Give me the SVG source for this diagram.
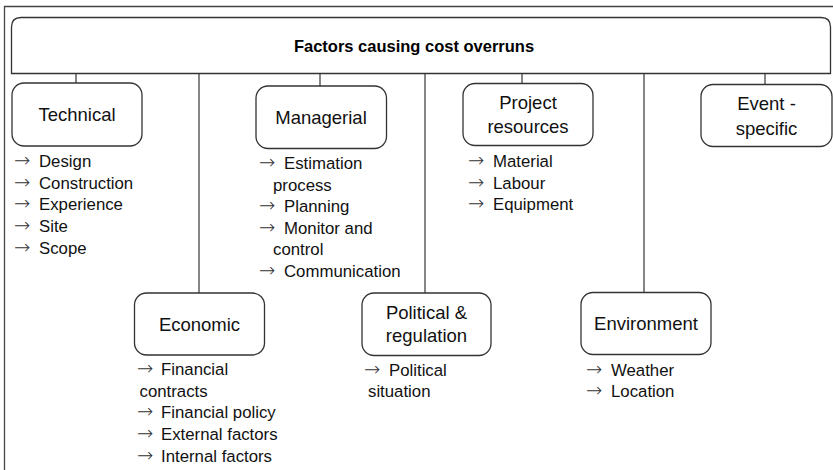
<svg xmlns="http://www.w3.org/2000/svg" width="833" height="470" viewBox="0 0 833 470">
<style>
.bg{fill:#fff}
.frame{fill:none;stroke:#444;stroke-width:1.3}
.box{fill:#fff;stroke:#333;stroke-width:1.3}
.ln{stroke:#444;stroke-width:1.3;fill:none}
.title{font-family:"Liberation Sans",Arial,sans-serif;font-weight:bold;font-size:16.5px;fill:#000;text-anchor:middle}
.lbl{font-family:"Liberation Sans",Arial,sans-serif;font-size:18.5px;fill:#111;text-anchor:middle}
.it{font-family:"Liberation Sans",Arial,sans-serif;font-size:16.8px;fill:#111}
.ar{font-family:"DejaVu Sans",sans-serif;font-size:19.5px;font-weight:200;fill:#333}
</style>
<rect class="bg" x="0" y="0" width="833" height="470"/>
<path class="frame" d="M4.5,470 V6.5 H833"/>
<g id="connectors">
<line class="ln" x1="76" y1="73" x2="76" y2="83"/>
<line class="ln" x1="320" y1="73" x2="320" y2="86"/>
<line class="ln" x1="522" y1="73" x2="522" y2="83"/>
<line class="ln" x1="765" y1="73" x2="765" y2="84"/>
<line class="ln" x1="199" y1="73" x2="199" y2="293"/>
<line class="ln" x1="425" y1="73" x2="425" y2="293"/>
<line class="ln" x1="644" y1="73" x2="644" y2="292"/>
</g>
<g id="root">
<path class="box" d="M11.5,73.5 V27 Q11.5,17.5 21,17.5 H821 Q830.5,17.5 830.5,27 V73.5 Z"/>
<text class="title" x="414" y="52">Factors causing cost overruns</text>
</g>
<g id="technical">
<rect class="box" x="12" y="83" width="130" height="63" rx="12"/>
<text class="lbl" x="77" y="120.5">Technical</text>
<text class="it" y="167"><tspan class="ar" x="14">→</tspan><tspan x="39">Design</tspan></text>
<text class="it" y="188.7"><tspan class="ar" x="14">→</tspan><tspan x="39">Construction</tspan></text>
<text class="it" y="210.4"><tspan class="ar" x="14">→</tspan><tspan x="39">Experience</tspan></text>
<text class="it" y="232"><tspan class="ar" x="14">→</tspan><tspan x="39">Site</tspan></text>
<text class="it" y="253.8"><tspan class="ar" x="14">→</tspan><tspan x="39">Scope</tspan></text>
</g>
<g id="managerial">
<rect class="box" x="256" y="86" width="130.5" height="62.5" rx="12"/>
<text class="lbl" x="321" y="123.5">Managerial</text>
<text class="it" y="169"><tspan class="ar" x="259">→</tspan><tspan x="284">Estimation</tspan></text>
<text class="it" y="190.6"><tspan x="273">process</tspan></text>
<text class="it" y="212.2"><tspan class="ar" x="259">→</tspan><tspan x="284">Planning</tspan></text>
<text class="it" y="233.8"><tspan class="ar" x="259">→</tspan><tspan x="284">Monitor and</tspan></text>
<text class="it" y="255.4"><tspan x="273">control</tspan></text>
<text class="it" y="277"><tspan class="ar" x="259">→</tspan><tspan x="284">Communication</tspan></text>
</g>
<g id="project-resources">
<rect class="box" x="463" y="83.5" width="130" height="62" rx="12"/>
<text class="lbl" x="528" y="109">Project</text>
<text class="lbl" x="528" y="133">resources</text>
<text class="it" y="167"><tspan class="ar" x="468">→</tspan><tspan x="493">Material</tspan></text>
<text class="it" y="188.7"><tspan class="ar" x="468">→</tspan><tspan x="493">Labour</tspan></text>
<text class="it" y="210.4"><tspan class="ar" x="468">→</tspan><tspan x="493">Equipment</tspan></text>
</g>
<g id="event-specific">
<rect class="box" x="701" y="84.5" width="131" height="62" rx="12"/>
<text class="lbl" x="766.5" y="109.5">Event -</text>
<text class="lbl" x="766.5" y="134.5">specific</text>
</g>
<g id="economic">
<rect class="box" x="134.5" y="293" width="130" height="62" rx="12"/>
<text class="lbl" x="199.5" y="330.5">Economic</text>
<text class="it" y="375"><tspan class="ar" x="137">→</tspan><tspan x="161">Financial</tspan></text>
<text class="it" y="396.7"><tspan x="139.5">contracts</tspan></text>
<text class="it" y="418.4"><tspan class="ar" x="137">→</tspan><tspan x="161">Financial policy</tspan></text>
<text class="it" y="440.1"><tspan class="ar" x="137">→</tspan><tspan x="161">External factors</tspan></text>
<text class="it" y="461.8"><tspan class="ar" x="137">→</tspan><tspan x="161">Internal factors</tspan></text>
</g>
<g id="political-regulation">
<rect class="box" x="362" y="293" width="129" height="62.5" rx="12"/>
<text class="lbl" x="426.5" y="319">Political &amp;</text>
<text class="lbl" x="426.5" y="341.5">regulation</text>
<text class="it" y="375.7"><tspan class="ar" x="364">→</tspan><tspan x="389">Political</tspan></text>
<text class="it" y="397.4"><tspan x="368">situation</tspan></text>
</g>
<g id="environment">
<rect class="box" x="581" y="292.5" width="130" height="62" rx="12"/>
<text class="lbl" x="646" y="329.5">Environment</text>
<text class="it" y="375.7"><tspan class="ar" x="586">→</tspan><tspan x="611">Weather</tspan></text>
<text class="it" y="397.4"><tspan class="ar" x="586">→</tspan><tspan x="611">Location</tspan></text>
</g>
</svg>
